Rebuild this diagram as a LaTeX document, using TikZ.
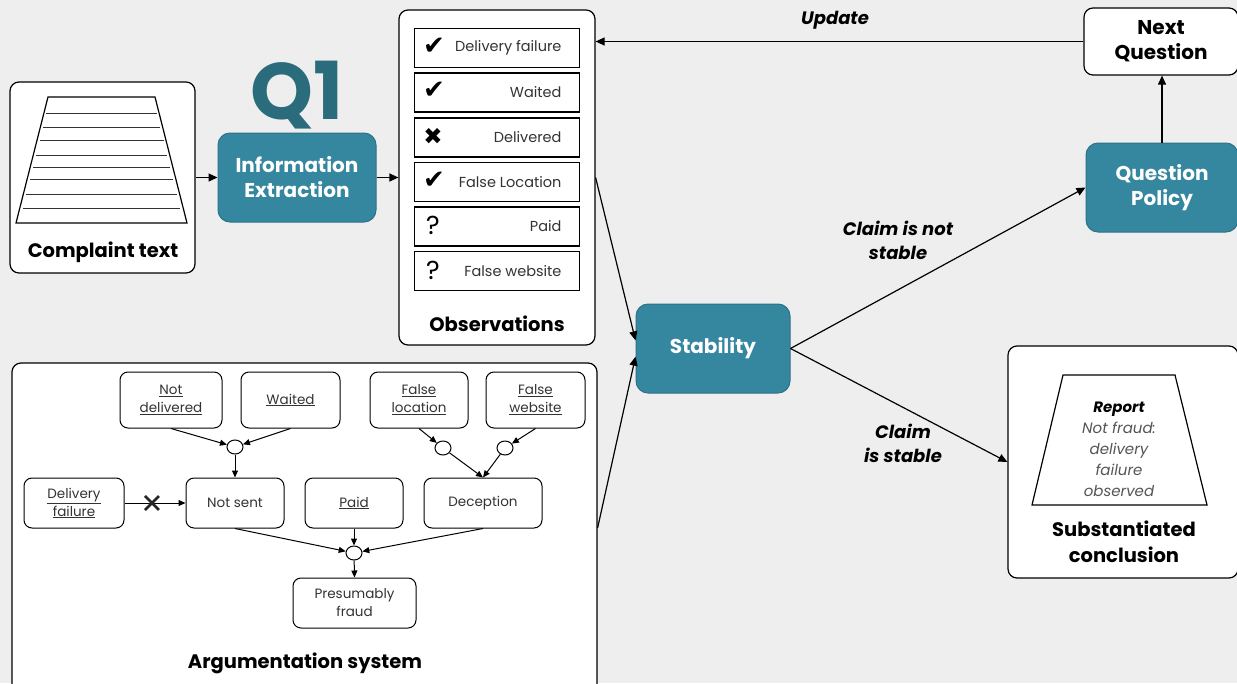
\documentclass[tikz,border=0pt]{standalone}
\usepackage{fontspec}
\setmainfont{Poppins}
\newfontfamily\symf{DejaVu Sans}
\usetikzlibrary{shapes.geometric,arrows.meta}

\definecolor{bgc}{HTML}{EEEEEE}
\definecolor{tealf}{HTML}{34879F}
\definecolor{teald}{HTML}{2D7288}
\definecolor{qone}{HTML}{2A6B7C}
\definecolor{txt}{HTML}{333333}
\definecolor{rep}{HTML}{555555}

\newcommand\fsz[2]{\fontsize{#1}{#2}\selectfont}

\begin{document}
\begin{tikzpicture}[x=1pt,y=-1pt,
  wbox/.style={draw=black,fill=white,line width=1.2pt,rounded corners=9pt},
  tealbox/.style={draw=teald,fill=tealf,line width=1pt,rounded corners=12pt,
    text=white,font=\fsz{20}{25}\bfseries,align=center},
  item/.style={draw=black,fill=white,line width=1.3pt,minimum width=165,minimum height=39},
  anode/.style={draw=black,fill=white,line width=1pt,rounded corners=8pt,
    text=txt,font=\fsz{13.5}{18},align=center},
  junc/.style={draw=black,fill=white,line width=1pt,ellipse,minimum width=16,minimum height=14,inner sep=0pt},
  lbl/.style={font=\fsz{19.5}{25}\bfseries,align=center},
  elbl/.style={font=\fsz{18}{24}\bfseries\itshape,align=center},
  arr/.style={line width=1.2pt,-{Triangle[length=9pt,width=8pt]}},
  sarr/.style={line width=1pt,-{Triangle[length=7pt,width=6pt]}},
  tick/.style={font=\symf\fsz{26}{26}},
  cross/.style={font=\symf\fsz{23}{23}},
  itemtxt/.style={anchor=east,text=txt,font=\fsz{14.5}{16}}
]
\useasboundingbox (0,0) rectangle (1237,683);
\fill[bgc] (0,0) rectangle (1237,683);

% complaint text
\node[wbox,minimum width=185,minimum height=191] (ct) at (102.5,177.5) {};
\draw[line width=1.2pt] (48,97) -- (155,97) -- (187,223) -- (16,223) -- cycle;
\foreach \yy/\xl/\xr in {113/46/157,127/43/160,140/40/164,155/36/167,167/33/170,179/30/173,194/26/177,208/23/180}
  \draw[line width=0.9pt,black!80] (\xl,\yy) -- (\xr,\yy);
\node[lbl] (ctl) at (103,252) {Complaint text};

% Q1 and information extraction
\node[text=qone,font=\fsz{80}{82}\bfseries] (q1) at (297,95) {Q1};
\node[tealbox,minimum width=158,minimum height=89] (ie) at (297,177.5) {Information\\Extraction};

% observations
\node[wbox,minimum width=196,minimum height=335] (obs) at (497,177.5) {};
\node[item] (o1) at (497,48) {};
\node[item] (o2) at (497,92.5) {};
\node[item] (o3) at (497,137.5) {};
\node[item] (o4) at (497,182) {};
\node[item] (o5) at (497,226.5) {};
\node[item] (o6) at (497,271) {};
\node[tick] (m1) at (434,46) {✔};
\node[tick] (m2) at (434,90) {✔};
\node[cross] (m3) at (433,136) {✖};
\node[tick] (m4) at (434,180) {✔};
\node[font=\fsz{26}{26}] (m5) at (433,225) {?};
\node[font=\fsz{26}{26}] (m6) at (433,270) {?};
\node[itemtxt] (t1) at (565,48) {Delivery failure};
\node[itemtxt] (t2) at (565,92.5) {Waited};
\node[itemtxt] (t3) at (565,137.5) {Delivered};
\node[itemtxt] (t4) at (565,182) {False Location};
\node[itemtxt] (t5) at (565,226.5) {Paid};
\node[itemtxt] (t6) at (565,271) {False website};
\node[lbl] (obsl) at (497,324) {Observations};

% stability and question side
\node[tealbox,minimum width=154,minimum height=89] (st) at (713,348.5) {Stability};
\node[tealbox,minimum width=152,minimum height=89] (qp) at (1162,187.5) {Question\\Policy};
\node[wbox,minimum width=154,minimum height=67,font=\fsz{20}{25}\bfseries,align=center] (nq) at (1161,41.5) {Next\\Question};

% substantiated conclusion
\node[wbox,minimum width=230,minimum height=232] (sub) at (1123,462) {};
\draw[line width=1.2pt] (1063,375) -- (1175,375) -- (1207,505) -- (1032,505) -- cycle;
\node[align=center,font=\fsz{15}{21}\itshape,text=rep] (rp) at (1119,449)
  {{\bfseries\color{black}Report}\\Not fraud:\\delivery\\failure\\observed};
\node[lbl,font=\fsz{19.5}{26}\bfseries] (subl) at (1124,542) {Substantiated\\conclusion};

% argumentation system
\node[wbox,minimum width=585,minimum height=330] (as) at (304.5,528) {};
\node[anode,minimum width=102,minimum height=56] (nd) at (171,400) {\underline{Not}\\\underline{delivered}};
\node[anode,minimum width=99,minimum height=56] (wt) at (290.5,400) {\underline{Waited}};
\node[anode,minimum width=98,minimum height=56] (fl) at (419,400) {\underline{False}\\\underline{location}};
\node[anode,minimum width=99,minimum height=56] (fw) at (535.5,400) {\underline{False}\\\underline{website}};
\node[anode,minimum width=100,minimum height=50] (df) at (74,503) {\underline{Delivery}\\\underline{failure}};
\node[anode,minimum width=98,minimum height=50] (ns) at (235,503) {Not sent};
\node[anode,minimum width=98,minimum height=50] (pd) at (354,503) {\underline{Paid}};
\node[anode,minimum width=118,minimum height=50] (dc) at (483,503) {Deception};
\node[anode,minimum width=123,minimum height=50] (pf) at (354.5,603) {Presumably\\fraud};
\node[junc] (j1) at (235,447) {};
\node[junc] (j2) at (443,448) {};
\node[junc] (j3) at (505,448) {};
\node[junc] (j4) at (354,553) {};
\node[lbl] (asl) at (305,663) {Argumentation system};

\draw[sarr] (nd.south) -- (j1);
\draw[sarr] (wt.south) -- (j1);
\draw[sarr] (j1) -- (ns.north);
\draw[sarr] (fl.south) -- (j2);
\draw[sarr] (fw.south) -- (j3);
\draw[sarr] (j2) -- (dc.north);
\draw[sarr] (j3) -- (dc.north);
\draw[sarr] (ns.south) -- (j4);
\draw[sarr] (pd.south) -- (j4);
\draw[sarr] (dc.south) -- (j4);
\draw[sarr] (j4) -- (pf.north);
\draw[sarr] (df.east) -- (ns.west) coordinate[pos=0.45] (xm);
\draw[line width=2.6pt,black!85] ([shift={(-7,-7)}]xm) -- ([shift={(7,7)}]xm)
  ([shift={(-7,7)}]xm) -- ([shift={(7,-7)}]xm);

% main flow
\draw[arr] (ct.east |- ie.west) -- (ie.west);
\draw[arr] (ie.east) -- (ie.east -| obs.west);
\draw[arr] (obs.east) -- (st.174);
\draw[arr] (as.east) -- (st.186);
\draw[arr] (st.east) -- (qp.west);
\draw[arr] (st.east) -- (sub.west);
\draw[arr] (qp.north) -- (qp.north |- nq.south);
\draw[arr] (nq.west) -- (nq.west -| obs.east);

\node[elbl] (upd) at (835,20) {Update};
\node[elbl] (cns) at (898,240) {Claim is not\\stable};
\node[elbl] (cs) at (903,443) {Claim\\is stable};
\end{tikzpicture}
\end{document}
